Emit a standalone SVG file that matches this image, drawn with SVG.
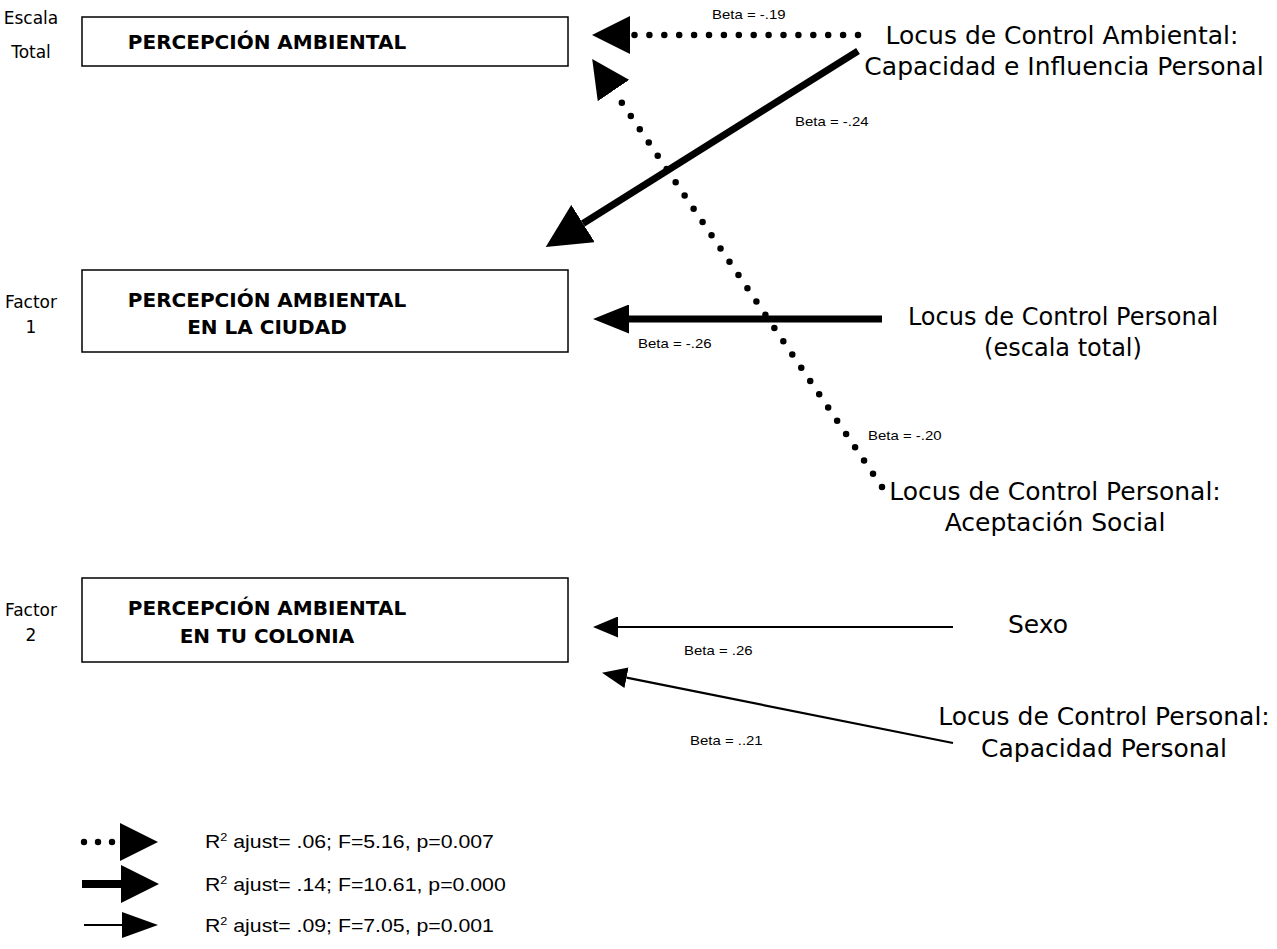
<svg xmlns="http://www.w3.org/2000/svg" width="1277" height="949" viewBox="0 0 1277 949">
<style>
.box{fill:#fff;stroke:#000;stroke-width:1.5}
.title{font-family:"DejaVu Sans",Verdana,sans-serif;font-weight:bold;font-size:20px;fill:#000;text-anchor:middle}
.side{font-family:"DejaVu Sans",Verdana,sans-serif;font-size:17px;fill:#000;text-anchor:middle}
.var{font-family:"DejaVu Sans",Verdana,sans-serif;font-size:25px;fill:#000;text-anchor:middle}
.beta{font-family:"Liberation Sans",Arial,sans-serif;font-size:13px;fill:#000}
.leg{font-family:"Liberation Sans",Arial,sans-serif;font-size:18.5px;fill:#000}
.dot{fill:none;stroke:#000;stroke-width:6.5;stroke-linecap:round}
.thick{fill:none;stroke:#000;stroke-width:7}
.thin{fill:none;stroke:#000;stroke-width:2.2}
</style>
<defs>
<marker id="mBig" markerUnits="userSpaceOnUse" viewBox="0 0 44 44" markerWidth="44" markerHeight="44" refX="0" refY="22" orient="auto"><path d="M0,0 L44,22 L0,44 Z" fill="#000"/></marker>
<marker id="mDot" markerUnits="userSpaceOnUse" viewBox="0 0 38 38" markerWidth="38" markerHeight="38" refX="0" refY="19" orient="auto"><path d="M0,0 L38,19 L0,38 Z" fill="#000"/></marker>
<marker id="mMed" markerUnits="userSpaceOnUse" viewBox="0 0 36 29" markerWidth="36" markerHeight="29" refX="0" refY="14.5" orient="auto"><path d="M0,0 L36,14.5 L0,29 Z" fill="#000"/></marker>
<marker id="mSmall" markerUnits="userSpaceOnUse" viewBox="0 0 25 21" markerWidth="25" markerHeight="21" refX="0" refY="10.5" orient="auto"><path d="M0,0 L25,10.5 L0,21 Z" fill="#000"/></marker>
<marker id="mLeg" markerUnits="userSpaceOnUse" viewBox="0 0 36 26" markerWidth="36" markerHeight="26" refX="0" refY="13" orient="auto"><path d="M0,0 L36,13 L0,26 Z" fill="#000"/></marker>
</defs>

<g id="node-total">
<rect class="box" x="82" y="17" width="486" height="49"/>
<text class="title" x="267" y="49">PERCEPCIÓN AMBIENTAL</text>
<text class="side" x="31" y="24">Escala</text>
<text class="side" x="31" y="58">Total</text>
</g>

<g id="node-ciudad">
<rect class="box" x="82" y="270" width="486" height="82"/>
<text class="title" x="267" y="307">PERCEPCIÓN AMBIENTAL</text>
<text class="title" x="267" y="334">EN LA CIUDAD</text>
<text class="side" x="31" y="308">Factor</text>
<text class="side" x="31" y="333">1</text>
</g>

<g id="node-colonia">
<rect class="box" x="82" y="578" width="486" height="84"/>
<text class="title" x="267" y="615">PERCEPCIÓN AMBIENTAL</text>
<text class="title" x="267" y="643">EN TU COLONIA</text>
<text class="side" x="31" y="616">Factor</text>
<text class="side" x="31" y="641">2</text>
</g>

<g id="node-lca">
<text class="var" x="1062" y="44">Locus de Control Ambiental:</text>
<text class="var" x="1064" y="75">Capacidad e Influencia Personal</text>
</g>

<g id="node-lcp">
<text class="var" x="1063" y="325" style="font-size:24px">Locus de Control Personal</text>
<text class="var" x="1063" y="356" style="font-size:24px">(escala total)</text>
</g>

<g id="node-lcp-as">
<text class="var" x="1055" y="500">Locus de Control Personal:</text>
<text class="var" x="1055" y="531">Aceptación Social</text>
</g>

<g id="node-sexo">
<text class="var" x="1038" y="633">Sexo</text>
</g>

<g id="node-lcp-cp">
<text class="var" x="1104" y="725">Locus de Control Personal:</text>
<text class="var" x="1104" y="757">Capacidad Personal</text>
</g>

<g id="connectors">
<line class="dot" style="stroke-dasharray:0 14.9" x1="858" y1="35" x2="630" y2="35" marker-end="url(#mDot)"/>
<line class="thick" x1="858" y1="51" x2="583" y2="223.5" marker-end="url(#mBig)"/>
<line class="dot" style="stroke-dasharray:0 16" x1="882" y1="487" x2="613.5" y2="90.5" marker-end="url(#mDot)"/>
<line class="thick" x1="882" y1="319" x2="629" y2="319" marker-end="url(#mMed)"/>
<line class="thin" x1="953" y1="627" x2="618" y2="627" marker-end="url(#mSmall)"/>
<line class="thin" x1="953" y1="743" x2="626.5" y2="677.7" marker-end="url(#mSmall)"/>
<text class="beta" transform="translate(712,19) scale(1.15,1)">Beta = -.19</text>
<text class="beta" transform="translate(795,126) scale(1.15,1)">Beta = -.24</text>
<text class="beta" transform="translate(638,348) scale(1.15,1)">Beta = -.26</text>
<text class="beta" transform="translate(868,440) scale(1.15,1)">Beta = -.20</text>
<text class="beta" transform="translate(684,655) scale(1.15,1)">Beta = .26</text>
<text class="beta" transform="translate(690,745) scale(1.15,1)">Beta = ..21</text>
</g>

<g id="legend">
<circle cx="84" cy="842" r="3.2"/>
<circle cx="98" cy="842" r="3.2"/>
<circle cx="112" cy="842" r="3.2"/>
<line class="thin" style="stroke-width:0.1" x1="119" y1="842" x2="120" y2="842" marker-end="url(#mDot)"/>
<line class="thick" style="stroke-width:8" x1="82" y1="884" x2="121" y2="884" marker-end="url(#mDot)"/>
<line class="thin" x1="84" y1="925" x2="122" y2="925" marker-end="url(#mLeg)"/>
<text class="leg" transform="translate(205,848) scale(1.15,1)">R<tspan dy="-7" font-size="11">2</tspan><tspan dy="7"> ajust= .06; F=5.16, p=0.007</tspan></text>
<text class="leg" transform="translate(205,891) scale(1.15,1)">R<tspan dy="-7" font-size="11">2</tspan><tspan dy="7"> ajust= .14; F=10.61, p=0.000</tspan></text>
<text class="leg" transform="translate(205,932) scale(1.15,1)">R<tspan dy="-7" font-size="11">2</tspan><tspan dy="7"> ajust= .09; F=7.05, p=0.001</tspan></text>
</g>
</svg>
